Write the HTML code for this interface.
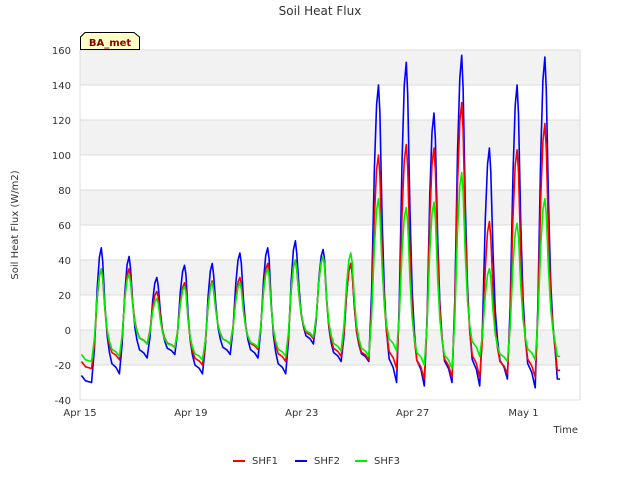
<!DOCTYPE html>
<html><head><meta charset="utf-8"><style>
body{margin:0;background:#fff;font-family:"DejaVu Sans","Liberation Sans",sans-serif}
</style></head><body>
<svg id="chart" width="640" height="480" viewBox="0 0 640 480" xmlns="http://www.w3.org/2000/svg" font-family="DejaVu Sans, Liberation Sans, sans-serif">
<rect width="640" height="480" fill="#fff"/>
<g id="bands"></g>
<g id="grid"></g>
<g id="series"></g>
<g id="axes"></g>
<text x="320" y="15" text-anchor="middle" font-size="12" fill="#333">Soil Heat Flux</text>
<text transform="translate(18,225) rotate(-90)" text-anchor="middle" font-size="10" fill="#333">Soil Heat Flux (W/m2)</text>
<text x="578" y="433" text-anchor="end" font-size="10" fill="#333">Time</text>
<g>
<path d="M80.5,49.5 V37 L85,32.5 H134 L139.5,37 V49.5 Z" fill="#ffffc8" stroke="#000" stroke-width="1"/>
<text x="110" y="46" text-anchor="middle" font-size="10" font-weight="bold" fill="#8b0000">BA_met</text>
</g>
<g id="legend"></g>
</svg>
<script>
const yTicks=[-40,-20,0,20,40,60,80,100,120,140,160];
const xTickLabels=["Apr 15","Apr 19","Apr 23","Apr 27","May 1"];
const xTickDays=[0,4,8,12,16];
const seriesNames=["SHF1","SHF2","SHF3"];
const seriesColors=["#ff0000","#0000ff","#00ee00"];
const peaks1=[35,35,22,27,28,30,38,40,42,38,100,106,104,130,62,103,118];
const peaks2=[47,42,30,37,38,44,47,51,46,38,140,153,124,157,104,140,156];
const peaks3=[35,32,18,25,27,27,35,40,42,44,75,70,73,90,35,61,75];
const troughs1=[-22,-17,-8,-10,-20,-8,-11,-18,-5,-15,-17,-22,-28,-27,-27,-25,-27,-23];
const troughs2=[-30,-25,-16,-14,-25,-14,-16,-25,-8,-18,-18,-30,-32,-30,-32,-28,-33,-28];
const troughs3=[-18,-15,-8,-10,-17,-8,-10,-15,-4,-12,-15,-12,-20,-22,-15,-18,-17,-15];
const NS="http://www.w3.org/2000/svg";
const X0=80,X1=580,Y0=50,Y1=400,DAYW=27.72;
function xs(d){return X0+d*DAYW;}
function ys(v){return Y1-(v+40)*(Y1-Y0)/200;}
function mk(tag,attrs,parent){const e=document.createElementNS(NS,tag);for(const k in attrs)e.setAttribute(k,attrs[k]);parent.appendChild(e);return e;}
const bands=document.getElementById('bands'),grid=document.getElementById('grid'),axes=document.getElementById('axes'),series=document.getElementById('series'),legend=document.getElementById('legend');
for(let i=0;i<yTicks.length-1;i++){
  if((yTicks.length-2-i)%2===0){
    const r=mk('rect',{x:X0,y:ys(yTicks[i+1]),width:X1-X0,height:ys(yTicks[i])-ys(yTicks[i+1]),fill:'#f2f2f2'},bands);
    
    
  }
}
yTicks.forEach(v=>{
  const l=mk('line',{x1:X0,x2:X1,y1:ys(v),y2:ys(v),stroke:'#dcdcdc','stroke-width':1},grid);
  
  
  const t=mk('text',{x:71,y:ys(v)+4,'text-anchor':'end','font-size':10,fill:'#333'},axes);
  t.textContent=v;
  
  
});
mk('line',{x1:X0,x2:X0,y1:Y0,y2:Y1,stroke:'#dcdcdc'},grid);
mk('line',{x1:X1,x2:X1,y1:Y0,y2:Y1,stroke:'#dcdcdc'},grid);
xTickDays.forEach((d,i)=>{
  const t=mk('text',{x:xs(d),y:416,'text-anchor':'middle','font-size':10,fill:'#333'},axes);
  t.textContent=xTickLabels[i];
  
  
});
function buildPoints(peaks,troughs){
  const pts=[];
  const n=peaks.length;
  for(let i=0;i<n;i++){
    const t=troughs[i],p=peaks[i],t2=troughs[i+1];
    if(i===0)pts.push([0.05,t+4],[0.2,t+1]);
    pts.push([i+0.42,t],[i+0.52,t+0.25*(p-t)],[i+0.62,t+0.7*(p-t)],[i+0.7,t+0.93*(p-t)],[i+0.77,p],[i+0.82,t+0.9*(p-t)],
      [i+0.9,t2+0.55*(p-t2)],[i+0.98,t2+0.3*(p-t2)],[i+1.06,t2+0.17*(p-t2)],[i+1.15,t2+0.08*(p-t2)]);
    if(i<n-1)pts.push([i+1.3,t2+0.05*(p-t2)]);
  }
  pts.push([n+0.22,troughs[n]],[n+0.32,troughs[n]]);
  return pts;
}
const all=[[peaks1,troughs1],[peaks2,troughs2],[peaks3,troughs3]];
[1,0,2].forEach(s=>{
  const pts=buildPoints(all[s][0],all[s][1]);
  const d=pts.map((q,i)=>(i?'L':'M')+xs(q[0]).toFixed(1)+','+ys(q[1]).toFixed(1)).join(' ');
  const p=mk('path',{d:d,fill:'none',stroke:seriesColors[s],'stroke-width':1.6,'stroke-linejoin':'round'},series);
  
  
});
const legX=[233,295,355];
seriesNames.forEach((n,i)=>{
  const g=mk('g',{},legend);
  
  
  mk('line',{x1:legX[i],x2:legX[i]+12,y1:461,y2:461,stroke:seriesColors[i],'stroke-width':2},g);
  const t=mk('text',{x:legX[i]+19,y:464,'font-size':10,fill:'#333'},g);
  t.textContent=n;
});
</script>
</body></html>
